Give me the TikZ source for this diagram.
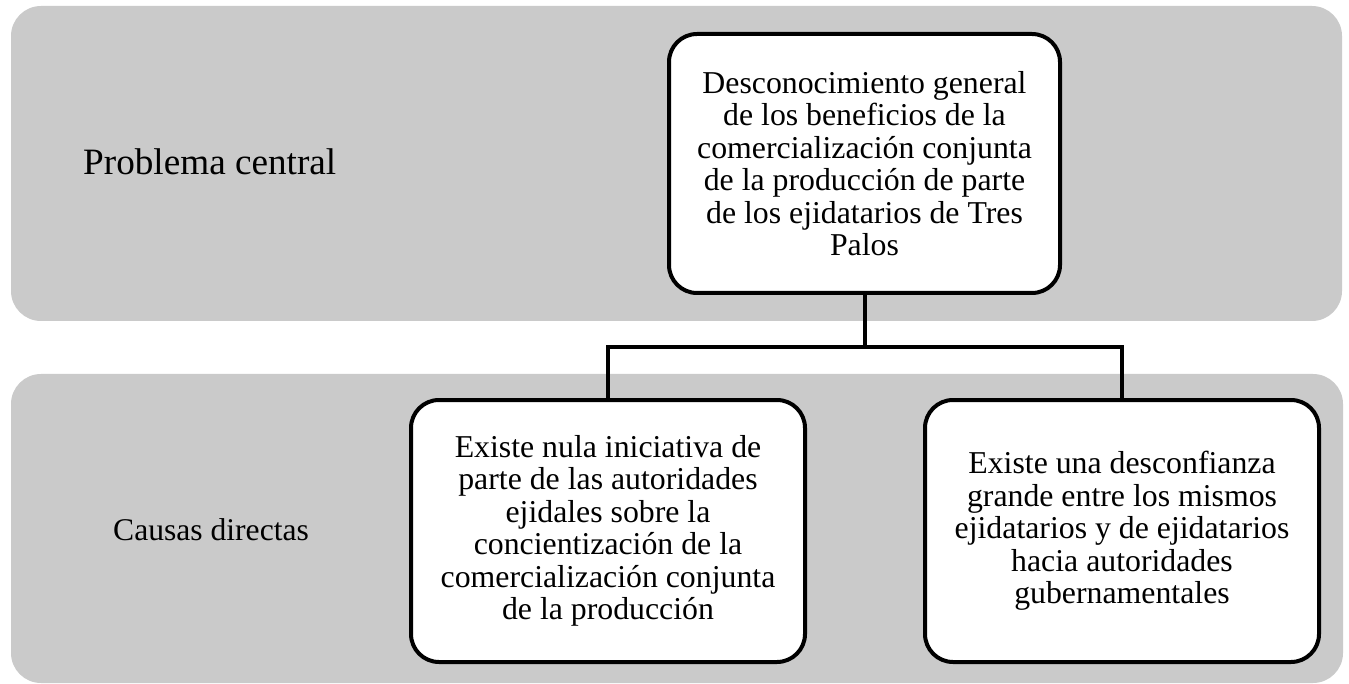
\documentclass[tikz,border=0pt]{standalone}
\usepackage{fontspec}
\setmainfont{Liberation Serif}
\usetikzlibrary{positioning}
\definecolor{bandgray}{RGB}{202,202,202}

\begin{document}
\begin{tikzpicture}[x=1pt, y=-1pt, node distance=116pt,
	band/.style={fill=bandgray, rounded corners=30pt},
	causebox/.style={rectangle, rounded corners=28pt, draw, line width=4pt, fill=white, minimum width=394pt, minimum height=262pt, align=center, inner sep=0pt, font=\fontsize{31.8}{32.5}\selectfont},
	rowlabel/.style={anchor=base west, inner sep=0pt}]
	\useasboundingbox (0,0) rectangle (1349,684);
	\fill[band] (11,6) rectangle (1342,321);
	\fill[band] (11,374) rectangle (1343,683);

	\node[rowlabel, font=\fontsize{37.2}{40}\selectfont] (a) at (83,175)   {Problema central};
	\node[rowlabel, font=\fontsize{31.6}{34}\selectfont] (b) at (113,540)  {Causas directas};
	\node[causebox, minimum width=391pt, minimum height=259pt] (1) at (864.5,163.5)
		{Desconocimiento general\\ de los beneficios de la\\ comercialización conjunta\\ de la producción de parte\\ de los ejidatarios de Tres\\ Palos};
	\node[causebox] (2) at (608,531)
		{Existe nula iniciativa de\\ parte de las autoridades\\ ejidales sobre la\\ concientización de la\\ comercialización conjunta\\ de la producción};
	\node[causebox] (3) [right=of 2]
		{Existe una desconfianza\\ grande entre los mismos\\ ejidatarios y de ejidatarios\\ hacia autoridades\\ gubernamentales};

	\coordinate (s) at (864.5,347);
	\draw[line width=4pt] (1.south) -- (s);
	\draw[line width=4pt] (2.north) |- (s) -| (3.north);
\end{tikzpicture}
\end{document}
